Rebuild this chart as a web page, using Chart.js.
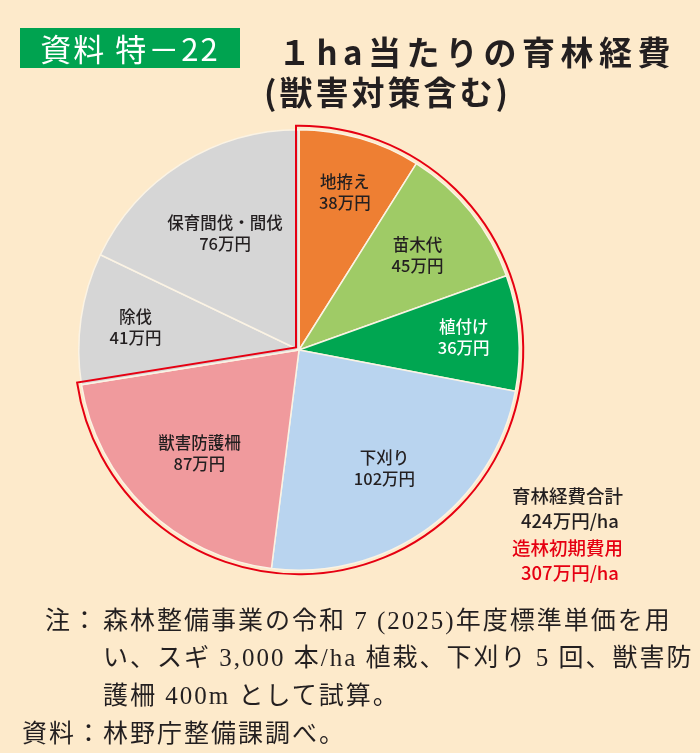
<!DOCTYPE html>
<html lang="ja">
<head>
<meta charset="utf-8">
<script src="https://cdn.jsdelivr.net/npm/chart.js@4.4.1/dist/chart.umd.min.js"></script>
<style>
  html, body { margin: 0; padding: 0; }
  body {
    width: 700px; height: 753px; position: relative; overflow: hidden;
    background: #fdeacb;
    font-family: "Noto Sans CJK JP", "Noto Sans", sans-serif;
    color: #231f20;
  }
  #chartBox { position: absolute; left: 0; top: 0; width: 700px; height: 753px; }
  .abs { position: absolute; white-space: nowrap; }
  #badge {
    left: 20px; top: 28px; width: 220px; height: 40px; background: #00a350;
    color: #fff; font-size: 31px; line-height: 40px; text-align: center; letter-spacing: 2px;
  }
  .title { font-weight: bold; font-size: 33px; line-height: 40px; }
  .sum { font-size: 18.5px; font-weight: 500; line-height: 24px; }
  .red { color: #e60012; }
  .note { font-family: "Liberation Serif", "Noto Sans CJK JP", serif; font-size: 25px; line-height: 37px; letter-spacing: 2px; }
</style>
</head>
<body>
<div id="chartBox"><canvas id="pieChart" width="700" height="753"></canvas></div>

<div class="abs" id="badge">資料 特－22</div>
<div class="abs title" style="left:278px; top:31px; letter-spacing:5.5px;">１ha当たりの育林経費</div>
<div class="abs title" style="left:264px; top:71px; letter-spacing:3px;">(獣害対策含む)</div>

<div class="abs sum" style="left:512px; top:483px;">育林経費合計</div>
<div class="abs sum" style="left:521px; top:508px;">424万円/ha</div>
<div class="abs sum red" style="left:512px; top:535px;">造林初期費用</div>
<div class="abs sum red" style="left:521px; top:560px;">307万円/ha</div>

<div class="abs note" style="left:45px; top:602px;">注：</div>
<div class="abs note" style="left:103px; top:602px;">森林整備事業の令和 7 (2025)年度標準単価を用</div>
<div class="abs note" style="left:103px; top:639px;">い、スギ 3,000 本/ha 植栽、下刈り 5 回、獣害防</div>
<div class="abs note" style="left:103px; top:677px;">護柵 400m として試算。</div>
<div class="abs note" style="left:22px; top:715px;">資料：</div>
<div class="abs note" style="left:103px; top:715px;">林野庁整備課調べ。</div>

<script>
// 1haあたりの育林経費（万円）
const categories = ['地拵え', '苗木代', '植付け', '下刈り', '獣害防護柵', '除伐', '保育間伐・間伐'];
const costs = [38, 45, 36, 102, 87, 41, 76];
const sliceColors = ['#ee7f33', '#9fcb66', '#00a651', '#b9d4ef', '#f09a9d', '#d6d6d6', '#d6d6d6'];
const labelColors = ['#231f20', '#231f20', '#ffffff', '#231f20', '#231f20', '#231f20', '#231f20'];
const labelDist = [0.75, 0.69, 0.75, 0.66, 0.65, 0.75, 0.63];
const initialCount = 5; // 造林初期費用 = 先頭5項目

// スライスの中に項目名と金額を描く
const sliceLabels = {
    id: 'sliceLabels',
    afterDatasetsDraw(chart) {
        const ctx = chart.ctx;
        const arcs = chart.getDatasetMeta(0).data;
        ctx.save();
        ctx.textAlign = 'center';
        ctx.textBaseline = 'middle';
        ctx.font = '500 16.5px "Noto Sans CJK JP", sans-serif';
        arcs.forEach((arc, i) => {
            const mid = (arc.startAngle + arc.endAngle) / 2;
            const d = arc.outerRadius * labelDist[i];
            const x = arc.x + Math.cos(mid) * d;
            const y = arc.y + Math.sin(mid) * d;
            ctx.fillStyle = labelColors[i];
            ctx.fillText(categories[i], x, y - 10);
            ctx.fillText(costs[i] + '万円', x, y + 11);
        });
        ctx.restore();
    }
};

// 造林初期費用の範囲を赤線で囲む
const initialOutline = {
    id: 'initialOutline',
    afterDatasetsDraw(chart) {
        const arcs = chart.getDatasetMeta(0).data;
        const first = arcs[0], last = arcs[initialCount - 1];
        const cx = first.x, cy = first.y;
        const R = first.outerRadius + 4;
        const off = 3;
        const a0 = first.startAngle, a1 = last.endAngle;
        const gap = 2 * Math.PI - (a1 - a0);
        const bis = a1 + gap / 2;
        const vd = off / Math.sin(gap / 2);
        const vx = Math.cos(bis) * vd, vy = Math.sin(bis) * vd;
        function hit(a) {
            const ux = Math.cos(a), uy = Math.sin(a);
            const b = vx * ux + vy * uy;
            const t = -b + Math.sqrt(b * b - (vx * vx + vy * vy) + R * R);
            return Math.atan2(vy + t * uy, vx + t * ux);
        }
        const ctx = chart.ctx;
        ctx.save();
        ctx.strokeStyle = '#e60012';
        ctx.lineWidth = 2;
        ctx.beginPath();
        ctx.moveTo(cx + vx, cy + vy);
        ctx.arc(cx, cy, R, hit(a0), hit(a1), false);
        ctx.closePath();
        ctx.stroke();
        ctx.restore();
    }
};

const ctx = document.getElementById('pieChart').getContext('2d');
new Chart(ctx, {
    type: 'pie',
    data: {
        labels: categories,
        datasets: [{
            data: costs,
            backgroundColor: sliceColors,
            borderColor: '#fbf3e4',
            borderWidth: 1.5
        }]
    },
    options: {
        responsive: false,
        animation: false,
        layout: { padding: { left: 78, right: 180, top: 129, bottom: 182 } },
        plugins: {
            legend: { display: false },
            tooltip: { enabled: false }
        }
    },
    plugins: [sliceLabels, initialOutline]
});
</script>
</body>
</html>
